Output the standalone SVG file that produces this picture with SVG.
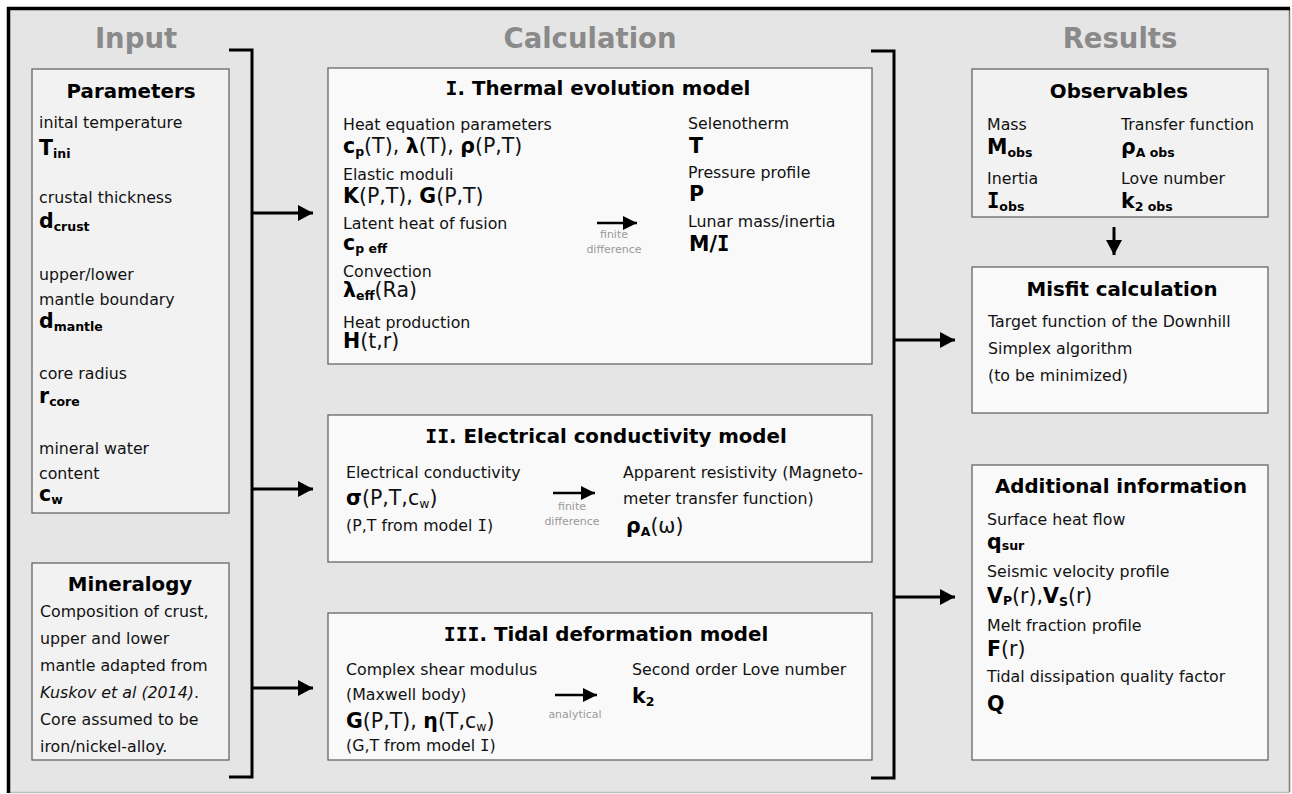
<svg xmlns="http://www.w3.org/2000/svg" width="1292" height="794" viewBox="0 0 1292 794">
<defs>
<style>
text{font-family:"DejaVu Sans",Verdana,"Liberation Sans",sans-serif;fill:#111}
.hdr{font-size:27.5px;font-weight:bold;fill:#8a8a8a}
.ttl{font-size:19.8px;font-weight:bold;fill:#000;text-anchor:middle}
.lbl{font-size:15.8px}
.val{font-size:20.5px}
.b{font-weight:bold;fill:#000}
.sb{font-size:12.5px;font-weight:bold;fill:#000}
.sn{font-size:12.5px}
.ser{font-family:"DejaVu Sans Mono",monospace}
.note{font-size:11px;fill:#9a9a9a;text-anchor:middle}
.boxA{fill:#f2f2f2;stroke:#666;stroke-width:1.3}
.boxB{fill:#f9f9f9;stroke:#666;stroke-width:1.3}
.conn{fill:none;stroke:#000;stroke-width:3}
.arr{fill:none;stroke:#000;stroke-width:3;marker-end:url(#big)}
.sarr{fill:none;stroke:#000;stroke-width:2.5;marker-end:url(#small)}
</style>
<marker id="big" markerUnits="userSpaceOnUse" markerWidth="16" markerHeight="16" refX="15" refY="8" orient="auto">
<path d="M0,0 L15,8 L0,16 z" fill="#000"/>
</marker>
<marker id="small" markerUnits="userSpaceOnUse" markerWidth="15" markerHeight="14" refX="14" refY="7" orient="auto">
<path d="M0,0 L14,7 L0,14 z" fill="#000"/>
</marker>
</defs>

<g id="frame">
<rect x="8" y="8" width="1281" height="784" fill="#e5e5e5"/>
<line x1="1289.5" y1="8" x2="1289.5" y2="792" stroke="#7a7a7a" stroke-width="1.5"/>
<line x1="8" y1="792.5" x2="1290" y2="792.5" stroke="#bdbdbd" stroke-width="1.5"/>
<line x1="8.5" y1="7" x2="8.5" y2="793" stroke="#000" stroke-width="3.5"/>
<line x1="7" y1="8.5" x2="1290" y2="8.5" stroke="#000" stroke-width="3.5"/>
</g>

<g id="headers">
<text class="hdr" x="136" y="48" text-anchor="middle">Input</text>
<text class="hdr" x="590" y="48" text-anchor="middle">Calculation</text>
<text class="hdr" x="1120" y="48" text-anchor="middle">Results</text>
</g>

<g id="parameters">
<rect class="boxA" x="32" y="69" width="197" height="444"/>
<text class="ttl" x="131" y="98">Parameters</text>
<text class="lbl" x="39" y="128">inital temperature</text>
<text class="val" x="39" y="155"><tspan class="b">T</tspan><tspan class="sb" dy="3">ini</tspan></text>
<text class="lbl" x="39" y="203">crustal thickness</text>
<text class="val" x="39" y="228"><tspan class="b">d</tspan><tspan class="sb" dy="3">crust</tspan></text>
<text class="lbl" x="39" y="280">upper/lower</text>
<text class="lbl" x="39" y="305">mantle boundary</text>
<text class="val" x="39" y="328"><tspan class="b">d</tspan><tspan class="sb" dy="3">mantle</tspan></text>
<text class="lbl" x="39" y="379">core radius</text>
<text class="val" x="39" y="403"><tspan class="b">r</tspan><tspan class="sb" dy="3">core</tspan></text>
<text class="lbl" x="39" y="454">mineral water</text>
<text class="lbl" x="39" y="479">content</text>
<text class="val" x="39" y="501"><tspan class="b">c</tspan><tspan class="sb" dy="3">w</tspan></text>
</g>

<g id="mineralogy">
<rect class="boxA" x="32" y="563" width="197" height="197"/>
<text class="ttl" x="130" y="591">Mineralogy</text>
<text class="lbl" x="40" y="617">Composition of crust,</text>
<text class="lbl" x="40" y="644">upper and lower</text>
<text class="lbl" x="40" y="671">mantle adapted from</text>
<text class="lbl" x="40" y="698"><tspan font-style="italic">Kuskov et al (2014)</tspan>.</text>
<text class="lbl" x="40" y="725">Core assumed to be</text>
<text class="lbl" x="40" y="752">iron/nickel-alloy.</text>
</g>

<g id="thermal">
<rect class="boxB" x="328" y="68" width="544" height="296"/>
<text class="ttl" x="598" y="95"><tspan class="ser">I</tspan>. Thermal evolution model</text>
<text class="lbl" x="343" y="130">Heat equation parameters</text>
<text class="val" x="343" y="153"><tspan class="b">c</tspan><tspan class="sb" dy="3">p</tspan><tspan dy="-3">(T), </tspan><tspan class="b">λ</tspan>(T), <tspan class="b">ρ</tspan>(P,T)</text>
<text class="lbl" x="343" y="180">Elastic moduli</text>
<text class="val" x="343" y="203"><tspan class="b">K</tspan>(P,T), <tspan class="b">G</tspan>(P,T)</text>
<text class="lbl" x="343" y="229">Latent heat of fusion</text>
<text class="val" x="343" y="250"><tspan class="b">c</tspan><tspan class="sb" dy="3">p eff</tspan></text>
<text class="lbl" x="343" y="277">Convection</text>
<text class="val" x="343" y="297"><tspan class="b">λ</tspan><tspan class="sb" dy="3">eff</tspan><tspan dy="-3">(Ra)</tspan></text>
<text class="lbl" x="343" y="328">Heat production</text>
<text class="val" x="343" y="348"><tspan class="b">H</tspan>(t,r)</text>
<text class="note" x="614" y="238">finite</text>
<text class="note" x="614" y="253">difference</text>
<text class="lbl" x="688" y="129">Selenotherm</text>
<text class="val b" x="689" y="153">T</text>
<text class="lbl" x="688" y="178">Pressure profile</text>
<text class="val b" x="689" y="201">P</text>
<text class="lbl" x="688" y="227">Lunar mass/inertia</text>
<text class="val b" x="689" y="251">M/<tspan class="ser">I</tspan></text>
</g>

<g id="electrical">
<rect class="boxB" x="328" y="415" width="544" height="147"/>
<text class="ttl" x="606" y="443"><tspan class="ser">II</tspan>. Electrical conductivity model</text>
<text class="lbl" x="346" y="478">Electrical conductivity</text>
<text class="val" x="346" y="505"><tspan class="b">σ</tspan>(P,T,c<tspan class="sn" dy="3">w</tspan><tspan dy="-3">)</tspan></text>
<text class="lbl" x="346" y="531">(P,T from model <tspan class="ser">I</tspan>)</text>
<text class="note" x="572" y="510">finite</text>
<text class="note" x="572" y="525">difference</text>
<text class="lbl" x="623" y="478">Apparent resistivity (Magneto-</text>
<text class="lbl" x="623" y="504">meter transfer function)</text>
<text class="val" x="626" y="533"><tspan class="b">ρ</tspan><tspan class="sb" dy="3">A</tspan><tspan dy="-3">(ω)</tspan></text>
</g>

<g id="tidal">
<rect class="boxB" x="328" y="613" width="544" height="147"/>
<text class="ttl" x="606" y="641"><tspan class="ser">III</tspan>. Tidal deformation model</text>
<text class="lbl" x="346" y="675">Complex shear modulus</text>
<text class="lbl" x="346" y="700">(Maxwell body)</text>
<text class="val" x="346" y="728"><tspan class="b">G</tspan>(P,T), <tspan class="b">η</tspan>(T,c<tspan class="sn" dy="3">w</tspan><tspan dy="-3">)</tspan></text>
<text class="lbl" x="346" y="751">(G,T from model <tspan class="ser">I</tspan>)</text>
<text class="note" x="575" y="718">analytical</text>
<text class="lbl" x="632" y="675">Second order Love number</text>
<text class="val" x="632" y="703"><tspan class="b">k</tspan><tspan class="sb" dy="3">2</tspan></text>
</g>

<g id="observables">
<rect class="boxA" x="972" y="69" width="296" height="148"/>
<text class="ttl" x="1119" y="98">Observables</text>
<text class="lbl" x="987" y="130">Mass</text>
<text class="val" x="987" y="154"><tspan class="b">M</tspan><tspan class="sb" dy="3">obs</tspan></text>
<text class="lbl" x="987" y="184">Inertia</text>
<text class="val" x="987" y="208"><tspan class="b ser">I</tspan><tspan class="sb" dy="3">obs</tspan></text>
<text class="lbl" x="1121" y="130">Transfer function</text>
<text class="val" x="1121" y="154"><tspan class="b">ρ</tspan><tspan class="sb" dy="3">A obs</tspan></text>
<text class="lbl" x="1121" y="184">Love number</text>
<text class="val" x="1121" y="208"><tspan class="b">k</tspan><tspan class="sb" dy="3">2 obs</tspan></text>
</g>

<g id="misfit">
<rect class="boxB" x="972" y="267" width="296" height="146"/>
<text class="ttl" x="1122" y="296">Misfit calculation</text>
<text class="lbl" x="988" y="327">Target function of the Downhill</text>
<text class="lbl" x="988" y="354">Simplex algorithm</text>
<text class="lbl" x="988" y="381">(to be minimized)</text>
</g>

<g id="additional">
<rect class="boxB" x="972" y="465" width="296" height="295"/>
<text class="ttl" x="1121" y="493">Additional information</text>
<text class="lbl" x="987" y="525">Surface heat flow</text>
<text class="val" x="987" y="549"><tspan class="b">q</tspan><tspan class="sb" dy="1">sur</tspan></text>
<text class="lbl" x="987" y="577">Seismic velocity profile</text>
<text class="val" x="987" y="603"><tspan class="b">V</tspan><tspan class="sb" dy="2">P</tspan><tspan dy="-2">(r),</tspan><tspan class="b">V</tspan><tspan class="sb" dy="3">S</tspan><tspan dy="-3">(r)</tspan></text>
<text class="lbl" x="987" y="631">Melt fraction profile</text>
<text class="val" x="987" y="656"><tspan class="b">F</tspan>(r)</text>
<text class="lbl" x="987" y="682">Tidal dissipation quality factor</text>
<text class="val b" x="987" y="711">Q</text>
</g>

<g id="connectors">
<path class="conn" d="M229,50 H252 V777 H229"/>
<path class="conn" d="M871,51 H894 V778 H871"/>
<line class="arr" x1="252" y1="213" x2="313" y2="213"/>
<line class="arr" x1="252" y1="489" x2="313" y2="489"/>
<line class="arr" x1="252" y1="688" x2="313" y2="688"/>
<line class="arr" x1="894" y1="340" x2="955" y2="340"/>
<line class="arr" x1="894" y1="597" x2="955" y2="597"/>
<line class="arr" x1="1114" y1="227" x2="1114" y2="255"/>
<line class="sarr" x1="597" y1="223" x2="637" y2="223"/>
<line class="sarr" x1="553" y1="493" x2="595" y2="493"/>
<line class="sarr" x1="555" y1="695" x2="597" y2="695"/>
</g>
</svg>
